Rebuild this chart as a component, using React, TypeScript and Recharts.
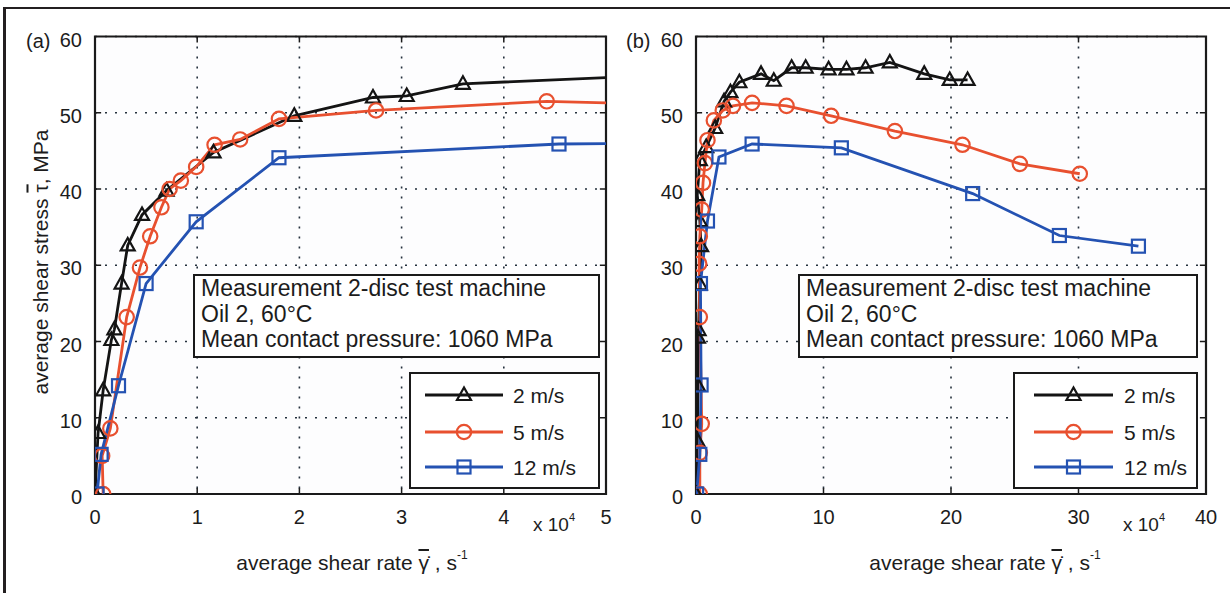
import React from 'react';
import { LineChart, Line, XAxis, YAxis, CartesianGrid, ReferenceLine, ReferenceArea } from 'recharts';

const FONT = '"Liberation Sans", Arial, Helvetica, sans-serif';
const TEXT = '#1c1c1c';
const AXIS = '#1a1a1a';

const seriesNames = ['2 m/s', '5 m/s', '12 m/s'];
const seriesColors = ['#141414', '#e8502f', '#2452b2'];
const seriesMarkers = ['tri', 'circ', 'sq'];

const yTicks = [0, 10, 20, 30, 40, 50, 60];
const xTicksA = [0, 1, 2, 3, 4, 5];
const xTicksB = [0, 10, 20, 30, 40];

// Panel (a): shear rate in 10^4 1/s, shear stress in MPa
const a2ms: [number, number][] = [
  [0, 0], [0.03, 8], [0.08, 13.6], [0.16, 20.2], [0.19, 21.6], [0.26, 27.6], [0.32, 32.6],
  [0.46, 36.6], [0.7, 39.8], [1.16, 44.8], [1.95, 49.6], [2.72, 52.0], [3.05, 52.2],
  [3.6, 53.8], [5.5, 54.9],
];
const a5ms: [number, number][] = [
  [0.08, 0], [0.07, 5], [0.15, 8.6], [0.31, 23.2], [0.44, 29.7], [0.54, 33.8], [0.65, 37.6],
  [0.73, 40.0], [0.84, 41.1], [0.99, 42.9], [1.17, 45.8], [1.42, 46.5], [1.8, 49.2],
  [2.75, 50.3], [4.42, 51.5], [5.5, 51.1],
];
const a12ms: [number, number][] = [
  [0.02, 0], [0.06, 5.2], [0.23, 14.2], [0.5, 27.6], [0.99, 35.7], [1.8, 44.1],
  [4.54, 45.9], [5.5, 46.0],
];

// Panel (b)
const b2ms: [number, number][] = [
  [0, 0], [0.1, 7], [0.15, 14.2], [0.15, 20.5], [0.2, 21.5], [0.3, 27.5], [0.4, 32.5],
  [0.3, 35.8], [0.1, 39.2], [0.3, 43.8], [0.8, 45.5], [1.5, 48.0], [2.2, 51.5], [2.7, 52.7],
  [3.4, 54.0], [5.1, 55.1], [6.1, 54.2], [7.5, 55.9], [8.6, 55.9], [10.4, 55.7], [11.8, 55.7],
  [13.3, 55.9], [15.2, 56.6], [17.9, 55.1], [19.9, 54.3], [21.3, 54.3],
];
const b5ms: [number, number][] = [
  [0.3, 0], [0.3, 5.4], [0.45, 9.2], [0.3, 23.2], [0.25, 30.2], [0.3, 33.8], [0.45, 37.3],
  [0.55, 40.8], [0.7, 43.4], [0.9, 46.4], [1.4, 49.0], [2.1, 50.3], [2.9, 50.9], [4.4, 51.3],
  [7.1, 50.9], [10.6, 49.6], [15.6, 47.6], [20.9, 45.8], [25.4, 43.3], [30.1, 42.0],
];
const b12ms: [number, number][] = [
  [0.05, 0], [0.3, 5.2], [0.4, 14.3], [0.35, 27.6], [0.9, 35.8], [1.8, 44.2], [4.4, 45.9],
  [11.4, 45.4], [21.7, 39.4], [28.5, 33.9], [34.7, 32.5],
];

const boxLines = ['Measurement 2-disc test machine', 'Oil 2, 60°C', 'Mean contact pressure: 1060 MPa'];

function Marker({ kind, cx, cy, color }: { kind: string; cx: number; cy: number; color: string }) {
  if (cx == null || cy == null || isNaN(cx) || isNaN(cy)) return null;
  if (kind === 'tri') {
    return (
      <polygon
        points={`${cx},${cy - 7.5} ${cx - 7},${cy + 5} ${cx + 7},${cy + 5}`}
        fill="none"
        stroke={color}
        strokeWidth={2.2}
        strokeLinejoin="miter"
      />
    );
  }
  if (kind === 'circ') {
    return <circle cx={cx} cy={cy} r={7.2} fill="none" stroke={color} strokeWidth={2.2} />;
  }
  return <rect x={cx - 6.5} y={cy - 6.5} width={13} height={13} fill="none" stroke={color} strokeWidth={2.2} />;
}

function XTick(props: any) {
  const { x, y, payload } = props;
  return (
    <text x={x} y={y} dy="0.71em" textAnchor="middle" fontSize={20} fontFamily={FONT} fill={TEXT}>
      {payload.value}
    </text>
  );
}

function YTick(props: any) {
  const { x, y, payload } = props;
  return (
    <text x={x} y={y + 3} dy="0.36em" textAnchor="end" fontSize={20} fontFamily={FONT} fill={TEXT}>
      {payload.value}
    </text>
  );
}

type PanelProps = {
  left: number;
  width: number;
  marginLeft: number;
  marginRight: number;
  xMax: number;
  xTicks: number[];
  series: [number, number][][];
};

function Panel({ left, width, marginLeft, marginRight, xMax, xTicks, series }: PanelProps) {
  const tx = xMax * 0.012;
  const ty = 60 * 0.013;
  const innerX = xTicks.slice(1, -1);
  const innerY = yTicks.slice(1, -1);
  return (
    <div style={{ position: 'absolute', left, top: 0 }}>
      <LineChart
        width={width}
        height={593}
        margin={{ top: 36.5, right: marginRight, bottom: 69, left: marginLeft }}
      >
        <CartesianGrid stroke="#25313d" strokeDasharray="2 8" strokeWidth={1.6} fill="#fdfdfe" />
        <XAxis
          type="number"
          dataKey="x"
          domain={[0, xMax]}
          ticks={xTicks}
          interval={0}
          allowDataOverflow
          axisLine={false}
          tickLine={false}
          tickSize={0}
          tickMargin={16}
          height={30}
          tick={XTick}
        />
        <YAxis
          type="number"
          dataKey="y"
          domain={[0, 60]}
          ticks={yTicks}
          interval={0}
          allowDataOverflow
          axisLine={false}
          tickLine={false}
          tickSize={0}
          tickMargin={13}
          width={30}
          tick={YTick}
        />
        {innerX.map((v) => (
          <ReferenceLine key={'xb' + v} segment={[{ x: v, y: 0 }, { x: v, y: ty }]} stroke={AXIS} strokeWidth={1.5} />
        ))}
        {innerX.map((v) => (
          <ReferenceLine key={'xt' + v} segment={[{ x: v, y: 60 }, { x: v, y: 60 - ty }]} stroke={AXIS} strokeWidth={1.5} />
        ))}
        {innerY.map((v) => (
          <ReferenceLine key={'yl' + v} segment={[{ x: 0, y: v }, { x: tx, y: v }]} stroke={AXIS} strokeWidth={1.5} />
        ))}
        {innerY.map((v) => (
          <ReferenceLine key={'yr' + v} segment={[{ x: xMax, y: v }, { x: xMax - tx, y: v }]} stroke={AXIS} strokeWidth={1.5} />
        ))}
        {series.map((pts, i) => (
          <Line
            key={seriesNames[i]}
            name={seriesNames[i]}
            data={pts.map(([x, y]) => ({ x, y }))}
            dataKey="y"
            type="linear"
            stroke={seriesColors[i]}
            strokeWidth={2.8}
            isAnimationActive={false}
            activeDot={false}
            dot={(p: any) => (
              <Marker key={`m${i}-${p.index}`} kind={seriesMarkers[i]} cx={p.cx} cy={p.cy} color={seriesColors[i]} />
            )}
          />
        ))}
        <ReferenceArea x1={0} x2={xMax} y1={0} y2={60} fill="none" fillOpacity={0} stroke={AXIS} strokeWidth={2.2} />
      </LineChart>
    </div>
  );
}

function TextBox({ left, width }: { left: number; width: number }) {
  return (
    <div
      style={{
        position: 'absolute',
        left,
        top: 274,
        width,
        height: 84,
        boxSizing: 'border-box',
        border: `2px solid ${AXIS}`,
        background: '#fff',
        padding: '0px 0 0 6px',
        fontFamily: FONT,
        fontSize: 23,
        lineHeight: '25.5px',
        color: TEXT,
        whiteSpace: 'nowrap',
      }}
    >
      {boxLines.map((l) => (
        <div key={l}>{l}</div>
      ))}
    </div>
  );
}

function LegendBox({ left, width, lineStart, lineEnd, textX }: { left: number; width: number; lineStart: number; lineEnd: number; textX: number }) {
  const rows = [23, 60, 95];
  const mid = (lineStart + lineEnd) / 2;
  return (
    <svg
      style={{ position: 'absolute', left, top: 372 }}
      width={width}
      height={117}
    >
      <rect x={1} y={1} width={width - 2} height={115} fill="#fff" stroke={AXIS} strokeWidth={2} />
      {seriesNames.map((n, i) => (
        <g key={n}>
          <line x1={lineStart} x2={lineEnd} y1={rows[i]} y2={rows[i]} stroke={seriesColors[i]} strokeWidth={2.8} />
          <Marker kind={seriesMarkers[i]} cx={mid} cy={rows[i]} color={seriesColors[i]} />
          <text x={textX} y={rows[i]} dy="0.38em" fontSize={21} fontFamily={FONT} fill={TEXT}>
            {n}
          </text>
        </g>
      ))}
    </svg>
  );
}

const abs = (l: number, t: number): React.CSSProperties => ({
  position: 'absolute',
  left: l,
  top: t,
  fontFamily: FONT,
  color: TEXT,
  whiteSpace: 'nowrap',
  lineHeight: 1,
});

function XLabel({ cx }: { cx: number }) {
  return (
    <div style={{ ...abs(cx, 552), fontSize: 21, transform: 'translateX(-50%)' }}>
      average shear rate <span style={{ textDecoration: 'overline' }}>{'\u03B3\u0307'}</span> , s
      <sup style={{ fontSize: 12, verticalAlign: 'top', position: 'relative', top: -3 }}>-1</sup>
    </div>
  );
}

function Scale({ x }: { x: number }) {
  return (
    <div style={{ ...abs(x, 515), fontSize: 19 }}>
      x 10<sup style={{ fontSize: 11, verticalAlign: 'top', position: 'relative', top: -3 }}>4</sup>
    </div>
  );
}

export default function App() {
  return (
    <div
      style={{
        position: 'absolute',
        left: 0,
        top: 0,
        width: 1230,
        height: 593,
        background: '#fff',
        overflow: 'hidden',
      }}
    >
      {/* figure frame */}
      <div style={{ position: 'absolute', left: 3, top: 7, width: 2.5, height: 586, background: '#231f20' }} />
      <div style={{ position: 'absolute', left: 3, top: 6.5, width: 1227, height: 2.5, background: '#231f20' }} />

      <Panel left={0} width={615} marginLeft={65} marginRight={9} xMax={5} xTicks={xTicksA} series={[a2ms, a5ms, a12ms]} />
      <Panel left={615} width={615} marginLeft={51} marginRight={24} xMax={40} xTicks={xTicksB} series={[b2ms, b5ms, b12ms]} />

      <TextBox left={193} width={407} />
      <TextBox left={798} width={400} />
      <LegendBox left={409} width={191} lineStart={16} lineEnd={94} textX={104} />
      <LegendBox left={1013} width={185} lineStart={21} lineEnd={100} textX={111} />

      <div style={{ ...abs(26, 31), fontSize: 20 }}>(a)</div>
      <div style={{ ...abs(626, 31), fontSize: 20 }}>(b)</div>

      <div
        style={{
          ...abs(40, 262),
          fontSize: 21,
          transform: 'translate(-50%, -50%) rotate(-90deg)',
        }}
      >
        average shear stress <span style={{ textDecoration: 'overline' }}>{'\u03C4'}</span>, MPa
      </div>

      <XLabel cx={352} />
      <XLabel cx={985} />
      <Scale x={533} />
      <Scale x={1123} />
    </div>
  );
}
